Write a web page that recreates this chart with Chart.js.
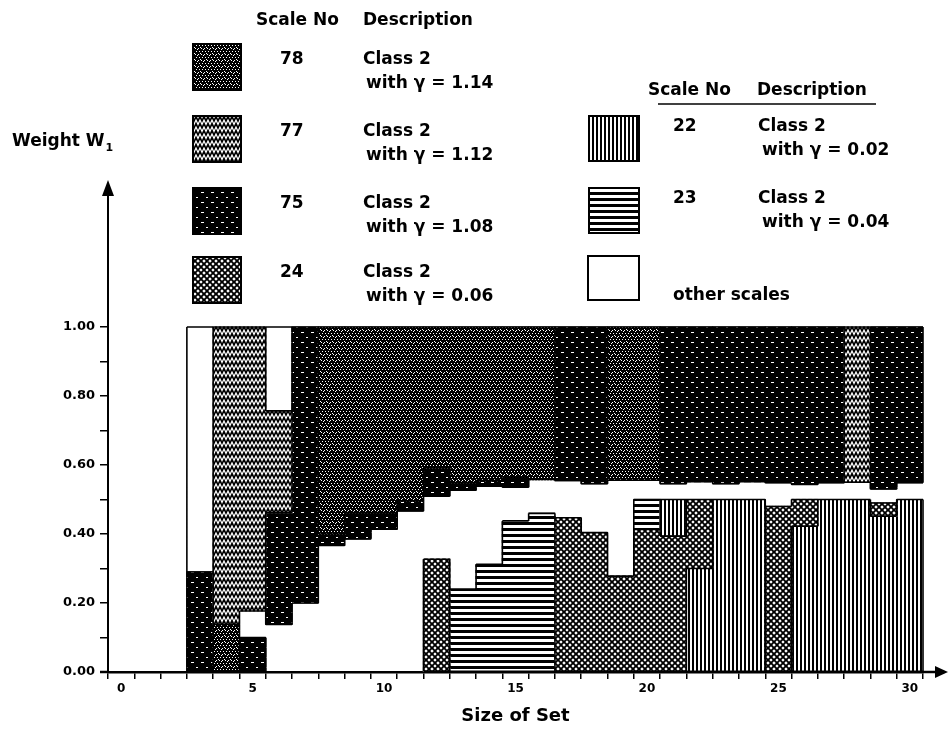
<!DOCTYPE html>
<html>
<head>
<meta charset="utf-8">
<title>Weight W1 against size of set</title>
<script src="https://cdn.jsdelivr.net/npm/chart.js@4.4.1/dist/chart.umd.min.js"></script>
<style>
  html, body { margin: 0; padding: 0; background: #fff; }
  #chart { display: block; }
</style>
</head>
<body>
<canvas id="chart" width="950" height="732"></canvas>
<script>
const _ = null;

const setSizes = ['0', '1', '2', '3', '4', '5', '6', '7', '8', '9', '10', '11', '12', '13', '14', '15',
  '16', '17', '18', '19', '20', '21', '22', '23', '24', '25', '26', '27', '28', '29', '30'];
const xTickLabels = ['0', '5', '10', '15', '20', '25', '30'];
const yTickValues = [0, 0.1, 0.2, 0.3, 0.4, 0.5, 0.6, 0.7, 0.8, 0.9, 1.0];

// [from, to] span of the weight taken by a scale, per size of set (null = scale not used)
const scale78 = [
  _, _, _, _, [0, 0.138], _, _, _, [0.40, 1], [0.462, 1],
  [0.462, 1], [0.496, 1], [0.592, 1], [0.549, 1], [0.555, 1], [0.563, 1], [0.558, 1], _, _, [0.556, 1],
  [0.556, 1], _, _, _, _, _, _, _, _, _,
  _
];
const scale77 = [
  _, _, _, _, [0.138, 1], [0.177, 1], [0.462, 0.757], _, _, _,
  _, _, _, _, _, _, _, _, _, _,
  _, _, _, _, _, _, _, _, [0.55, 1], _,
  _
];
const scale75 = [
  _, _, _, [0, 0.29], _, [0, 0.10], [0.138, 0.462], [0.20, 1], [0.367, 0.40], [0.386, 0.462],
  [0.414, 0.462], [0.467, 0.496], [0.51, 0.592], [0.527, 0.549], [0.539, 0.555], [0.536, 0.563], _, [0.555, 1], [0.546, 1], _,
  _, [0.546, 1], [0.552, 1], [0.546, 1], [0.552, 1], [0.549, 1], [0.544, 1], [0.549, 1], _, [0.531, 1],
  [0.549, 1]
];
const scale24 = [
  _, _, _, _, _, _, _, _, _, _,
  _, _, [0, 0.327], _, _, _, _, [0, 0.447], [0, 0.404], [0, 0.278],
  [0, 0.413], [0, 0.394], [0.30, 0.50], _, _, [0, 0.48], [0.423, 0.50], _, _, [0.452, 0.49],
  _
];
const scale22 = [
  _, _, _, _, _, _, _, _, _, _,
  _, _, _, _, _, _, _, _, _, _,
  _, [0.394, 0.50], [0, 0.30], [0, 0.50], [0, 0.50], _, [0, 0.423], [0, 0.50], [0, 0.50], [0, 0.452],
  [0, 0.50]
];
const scale23 = [
  _, _, _, _, _, _, _, _, _, _,
  _, _, _, [0, 0.24], [0, 0.312], [0, 0.438], [0, 0.46], _, _, _,
  [0.413, 0.50], _, _, _, _, _, _, _, _, _,
  _
];
const otherScales = [
  _, _, _, [0.29, 1], _, _, [0.757, 1], _, _, _,
  _, _, _, _, _, _, _, _, _, _,
  _, _, _, _, _, _, _, _, _, _,
  _
];

const FONT = '"DejaVu Sans", sans-serif';
const canvas = document.getElementById('chart');
const ctx = canvas.getContext('2d');

// black and white fill patterns, like the halftones of the original
function makePattern(w, h, draw) {
  const c = document.createElement('canvas');
  c.width = w;
  c.height = h;
  const g = c.getContext('2d');
  draw(g, w, h);
  return ctx.createPattern(c, 'repeat');
}

const patterns = {
  p78: makePattern(6, 6, (g) => {
    g.fillStyle = '#000'; g.fillRect(0, 0, 6, 6);
    g.fillStyle = '#fff';
    g.fillRect(0, 0, 1, 1); g.fillRect(3, 0, 1, 1);
    g.fillRect(1, 3, 1, 1); g.fillRect(4, 3, 1, 1);
    g.fillRect(5, 1, 1, 1); g.fillRect(2, 5, 1, 1);
  }),
  p77: makePattern(8, 7, (g) => {
    g.fillStyle = '#000'; g.fillRect(0, 0, 8, 7);
    g.strokeStyle = '#fff'; g.lineWidth = 1.2;
    g.beginPath();
    g.moveTo(-2, 5.5); g.lineTo(0, 1); g.lineTo(2, 5.5); g.lineTo(4, 1); g.lineTo(6, 5.5); g.lineTo(8, 1); g.lineTo(10, 5.5);
    g.stroke();
  }),
  p75: makePattern(10, 10, (g) => {
    g.fillStyle = '#000'; g.fillRect(0, 0, 10, 10);
    g.fillStyle = '#fff';
    g.fillRect(1, 2, 3, 1); g.fillRect(6, 7, 2, 1);
  }),
  p24: makePattern(6, 6, (g) => {
    g.fillStyle = '#fff'; g.fillRect(0, 0, 6, 6);
    g.strokeStyle = '#000'; g.lineWidth = 1.9;
    g.beginPath();
    g.moveTo(-1, -1); g.lineTo(7, 7);
    g.moveTo(-1, 7); g.lineTo(7, -1);
    g.stroke();
  }),
  p22: makePattern(4, 4, (g) => {
    g.fillStyle = '#fff'; g.fillRect(0, 0, 4, 4);
    g.fillStyle = '#000'; g.fillRect(0, 0, 2, 4);
  }),
  p23: makePattern(4, 6, (g) => {
    g.fillStyle = '#fff'; g.fillRect(0, 0, 4, 6);
    g.fillStyle = '#000'; g.fillRect(0, 0, 4, 3);
  }),
  other: '#fff'
};

function series(label, data, fill) {
  return { label, data, backgroundColor: fill, borderWidth: 0 };
}

// does the bar of this scale at index j touch the one at index i?
function joins(data, i, j) {
  const a = data[i], b = data[j];
  return !!(a && b && b[0] < a[1] && b[1] > a[0]);
}

// black outline round every patch of one scale: no line between touching
// bars of the same scale, only the step where their ends differ
const outlines = {
  id: 'outlines',
  afterDatasetsDraw(chart) {
    const g = chart.ctx;
    g.save();
    g.strokeStyle = '#000';
    g.lineWidth = 1.6;
    g.beginPath();
    chart.data.datasets.forEach((ds, d) => {
      const meta = chart.getDatasetMeta(d);
      ds.data.forEach((v, i) => {
        if (!v) return;
        const el = meta.data[i];
        const l = el.x - el.width / 2, r = el.x + el.width / 2;
        g.moveTo(l, el.y); g.lineTo(r, el.y);
        g.moveTo(l, el.base); g.lineTo(r, el.base);
        if (!joins(ds.data, i, i - 1)) { g.moveTo(l, el.y); g.lineTo(l, el.base); }
        if (!joins(ds.data, i, i + 1)) {
          g.moveTo(r, el.y); g.lineTo(r, el.base);
        } else {
          const nb = meta.data[i + 1];
          if (Math.abs(el.y - nb.y) > 0.5) { g.moveTo(r, el.y); g.lineTo(r, nb.y); }
          if (Math.abs(el.base - nb.base) > 0.5) { g.moveTo(r, el.base); g.lineTo(r, nb.base); }
        }
      });
    });
    g.stroke();
    g.restore();
  }
};

const legendLeft = [
  { no: '78', gamma: '1.14', fill: 'p78' },
  { no: '77', gamma: '1.12', fill: 'p77' },
  { no: '75', gamma: '1.08', fill: 'p75' },
  { no: '24', gamma: '0.06', fill: 'p24' }
];
const legendRight = [
  { no: '22', gamma: '0.02', fill: 'p22' },
  { no: '23', gamma: '0.04', fill: 'p23' }
];

// legend tables, y axis label and axis arrows
const decorations = {
  id: 'decorations',
  afterDraw(chart) {
    const g = chart.ctx;
    const { left, top, right, bottom } = chart.chartArea;
    g.save();
    g.fillStyle = '#000';
    g.strokeStyle = '#000';

    // arrows
    g.lineWidth = 2;
    g.beginPath(); g.moveTo(left, top + 2); g.lineTo(left, top - 4); g.stroke();
    g.beginPath(); g.moveTo(left, top - 16); g.lineTo(left - 6, top); g.lineTo(left + 6, top); g.closePath(); g.fill();
    g.lineWidth = 2.5;
    g.beginPath(); g.moveTo(left - 8, bottom); g.lineTo(left, bottom); g.stroke();
    g.beginPath(); g.moveTo(right, bottom); g.lineTo(right + 14, bottom); g.stroke();
    g.beginPath(); g.moveTo(right + 25, bottom); g.lineTo(right + 12, bottom - 6); g.lineTo(right + 12, bottom + 6); g.closePath(); g.fill();

    // y axis label
    g.font = 'bold 17px ' + FONT;
    g.textBaseline = 'alphabetic';
    g.fillText('Weight W', 12, 146);
    const wW = g.measureText('Weight W').width;
    g.font = 'bold 11px ' + FONT;
    g.fillText('1', 12 + wW + 1, 151);

    const swatch = (x, y, w, h, fill) => {
      g.fillStyle = patterns[fill];
      g.fillRect(x, y, w, h);
      g.fillStyle = '#000';
      g.lineWidth = 2;
      g.strokeRect(x + 1, y + 1, w - 2, h - 2);
    };

    g.font = 'bold 17px ' + FONT;
    // left table
    g.fillText('Scale No', 256, 25);
    g.fillText('Description', 363, 25);
    const leftTops = [43, 115, 187, 256];
    legendLeft.forEach((row, k) => {
      const t = leftTops[k];
      swatch(192, t, 50, 48, row.fill);
      g.fillText(row.no, 280, t + 21);
      g.fillText('Class 2', 363, t + 21);
      g.fillText('with \u03b3 = ' + row.gamma, 366, t + 45);
    });

    // right table
    g.fillText('Scale No', 648, 95);
    g.fillText('Description', 757, 95);
    g.lineWidth = 1.5;
    g.beginPath(); g.moveTo(658, 104); g.lineTo(876, 104); g.stroke();
    const rightTops = [115, 187];
    legendRight.forEach((row, k) => {
      const t = rightTops[k];
      swatch(588, t, 52, 47, row.fill);
      g.fillText(row.no, 673, t + 16);
      g.fillText('Class 2', 758, t + 16);
      g.fillText('with \u03b3 = ' + row.gamma, 762, t + 40);
    });
    swatch(587, 255, 53, 46, 'other');
    g.fillText('other scales', 673, 300);

    g.restore();
  }
};

Chart.defaults.font.family = FONT;
Chart.defaults.color = '#000';

new Chart(canvas, {
  type: 'bar',
  data: {
    labels: setSizes,
    datasets: [
      series('Scale 78', scale78, patterns.p78),
      series('Scale 77', scale77, patterns.p77),
      series('Scale 75', scale75, patterns.p75),
      series('Scale 24', scale24, patterns.p24),
      series('Scale 22', scale22, patterns.p22),
      series('Scale 23', scale23, patterns.p23),
      series('other scales', otherScales, patterns.other)
    ]
  },
  options: {
    responsive: false,
    animation: false,
    devicePixelRatio: 1,
    events: [],
    layout: { padding: { top: 196, right: 27, bottom: 0, left: 0 } },
    datasets: {
      bar: { grouped: false, barPercentage: 1, categoryPercentage: 1, borderSkipped: false, inflateAmount: 0.6 }
    },
    plugins: {
      legend: { display: false },
      tooltip: { enabled: false }
    },
    scales: {
      x: {
        type: 'category',
        offset: true,
        grid: { offset: true, drawOnChartArea: false, tickLength: 7, color: '#000', lineWidth: 1.5 },
        border: { display: true, color: '#000', width: 2.5 },
        ticks: {
          autoSkip: false,
          maxRotation: 0,
          padding: 3,
          font: { size: 12, weight: 'bold' },
          callback(value) {
            const lab = this.getLabelForValue(value);
            return xTickLabels.includes(lab) ? lab : '';
          }
        },
        title: {
          display: true,
          text: 'Size of Set',
          font: { size: 18, weight: 'bold' },
          padding: { top: 0, bottom: 5 }
        },
        afterFit(scale) { scale.height = 60; }
      },
      y: {
        type: 'linear',
        min: 0,
        max: 1.38,
        grid: { drawOnChartArea: false, tickLength: 8, color: '#000', lineWidth: 1.5 },
        border: { display: true, color: '#000', width: 2 },
        ticks: {
          padding: 5,
          font: { size: 13, weight: 'bold' },
          callback(value) {
            return Math.round(value * 10) % 2 === 0 ? value.toFixed(2) : '';
          }
        },
        afterBuildTicks(scale) { scale.ticks = yTickValues.map((v) => ({ value: v })); },
        afterFit(scale) { scale.width = 108; }
      }
    }
  },
  plugins: [outlines, decorations]
});
</script>
</body>
</html>
